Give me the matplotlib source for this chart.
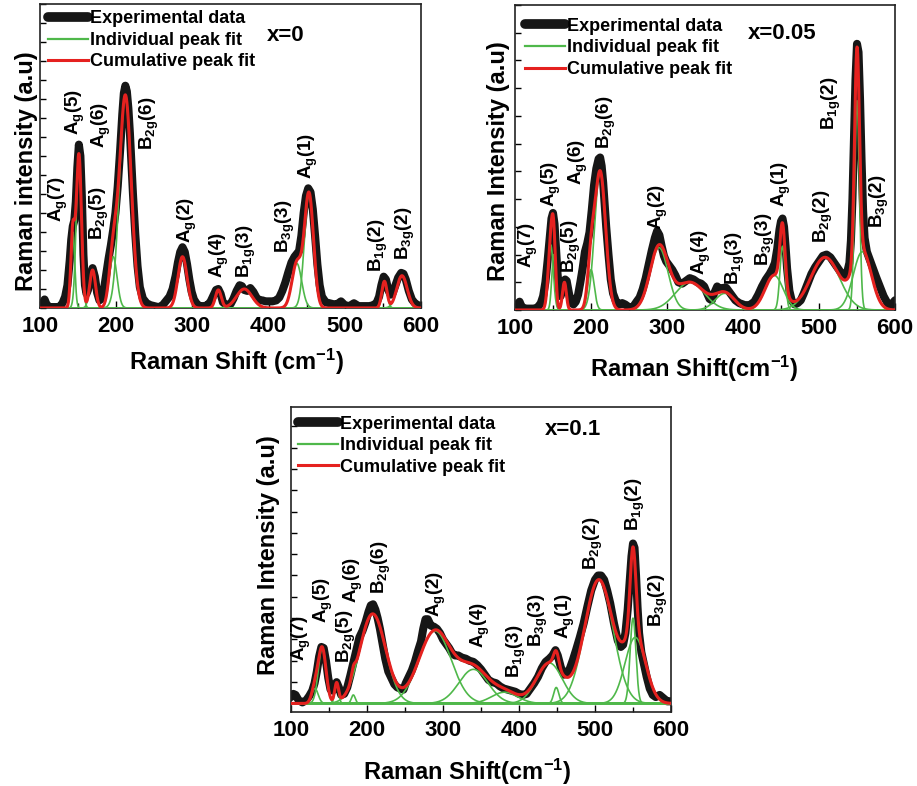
import numpy as np
import matplotlib
matplotlib.use("Agg")
import matplotlib.pyplot as plt
from matplotlib.lines import Line2D
from matplotlib.ticker import MultipleLocator

plt.rcParams["font.family"] = ["Liberation Sans", "DejaVu Sans"]
plt.rcParams["font.weight"] = "bold"
plt.rcParams["mathtext.fontset"] = "custom"
for k in ("rm", "it", "bf", "sf"):
    plt.rcParams["mathtext." + k] = "Liberation Sans:bold"

# ---------------- data ----------------
# Panel x=0 : experimental data
exp0_x = [100, 103, 106, 109, 113, 118, 123, 127, 130, 133, 136, 139, 141, 143, 145, 147, 149, 151, 153, 155,
          157, 159, 161, 163, 166, 169, 172, 175, 178, 181, 184, 187, 190, 193, 196, 199, 202, 205, 208, 210,
          212, 214, 216, 218, 220, 222, 225, 228, 231, 235, 240, 245, 250, 255, 260, 265, 270, 274, 278, 281,
          284, 287, 290, 293, 296, 299, 302, 306, 310, 315, 320, 324, 328, 331, 334, 337, 340, 345, 350, 354,
          358, 362, 365, 368, 372, 376, 380, 384, 388, 392, 396, 400, 405, 410, 414, 418, 422, 426, 430, 434,
          437, 440, 443, 446, 449, 452, 455, 458, 461, 464, 467, 470, 475, 480, 485, 490, 495, 500, 506, 512,
          518, 525, 532, 538, 542, 545, 548, 551, 554, 557, 560, 563, 566, 570, 574, 577, 580, 584, 588, 592,
          596, 600]
exp0_y = [0.15, 0.2, 0.45, 0.15, 0.05, 0.05, 0.05, 0.1, 0.3, 0.6, 1.2, 2.5, 3.6, 4.3, 4.6, 5.6, 7.4, 8.6, 8.0, 5.8,
          2.8, 1.2, 0.75, 0.95, 1.7, 2.1, 1.65, 0.8, 0.4, 0.5, 1.0, 1.8, 2.6, 3.3, 4.1, 5.0, 6.4, 8.2, 10.2, 11.3,
          11.7, 11.4, 10.5, 9.2, 7.6, 6.0, 3.9, 2.2, 1.1, 0.5, 0.25, 0.15, 0.1, 0.05, 0.1, 0.35, 0.6, 1.0, 1.7, 2.4,
          2.95, 3.2, 2.95, 2.3, 1.5, 0.85, 0.45, 0.2, 0.1, 0.1, 0.15, 0.35, 0.7, 0.95, 1.0, 0.75, 0.3, 0.15, 0.2, 0.5,
          0.9, 1.2, 1.15, 0.95, 0.9, 1.05, 0.85, 0.55, 0.4, 0.4, 0.35, 0.35, 0.35, 0.4, 0.55, 0.9, 1.35, 1.9, 2.4, 2.7,
          2.85, 3.0, 3.8, 5.0, 5.9, 6.3, 6.1, 5.2, 3.8, 2.3, 1.2, 0.6, 0.3, 0.25, 0.2, 0.2, 0.35, 0.15, 0.1, 0.25,
          0.1, 0.1, 0.1, 0.15, 0.3, 0.6, 1.2, 1.65, 1.5, 0.95, 0.7, 0.8, 1.15, 1.6, 1.85, 1.8, 1.5, 0.9, 0.45, 0.25,
          0.15, 0.1]
# Panel x=0 : fitted peaks (Gaussian centre, height, FWHM)
pk0_center = [143, 151, 169, 196, 212, 287, 334, 368, 437, 453, 552, 575]
pk0_height = [4.0, 8.1, 2.0, 2.7, 11.2, 2.7, 0.95, 1.0, 2.35, 6.0, 1.4, 1.7]
pk0_fwhm = [6, 8, 9, 12, 18, 14, 9, 24, 15, 14, 8, 16]
lab0_text = [r"A$_g$(7)", r"A$_g$(5)", r"A$_g$(6)", r"B$_{2g}$(6)", r"B$_{2g}$(5)", r"A$_g$(2)", r"A$_g$(4)",
             r"B$_{1g}$(3)", r"B$_{3g}$(3)", r"A$_g$(1)", r"B$_{1g}$(2)", r"B$_{3g}$(2)"]

# Panel x=0.05 : experimental data
exp1_x = [100, 103, 106, 109, 114, 120, 126, 130, 134, 137, 140, 143, 146, 148, 150, 152, 154, 156, 158, 160,
          163, 166, 168, 171, 174, 177, 180, 183, 186, 189, 192, 195, 198, 201, 204, 207, 210, 212, 214, 216,
          218, 220, 223, 226, 229, 233, 237, 241, 245, 250, 255, 260, 264, 268, 272, 276, 280, 284, 287, 290,
          293, 296, 299, 303, 307, 311, 315, 320, 325, 330, 335, 340, 345, 349, 352, 356, 359, 362, 366, 370,
          374, 378, 382, 386, 390, 395, 400, 405, 410, 415, 420, 425, 430, 435, 439, 442, 445, 448, 450, 452,
          454, 456, 458, 461, 464, 468, 472, 476, 480, 485, 490, 495, 500, 505, 510, 515, 520, 525, 530, 534,
          537, 540, 542, 544, 546, 548, 550, 552, 554, 556, 558, 560, 563, 567, 571, 575, 580, 585, 590, 594,
          597, 600]
exp1_y = [0.1, 0.2, 0.3, 0.1, 0.05, 0.05, 0.05, 0.1, 0.25, 0.5, 1.0, 1.8, 2.7, 3.3, 3.5, 3.1, 2.2, 1.3, 0.7, 0.5,
          0.75, 1.1, 1.05, 0.6, 0.25, 0.2, 0.3, 0.55, 1.0, 1.5, 2.1, 2.4, 2.8, 3.6, 4.5, 5.1, 5.45, 5.5, 5.2, 4.6,
          3.8, 3.0, 2.0, 1.1, 0.6, 0.3, 0.2, 0.25, 0.2, 0.1, 0.1, 0.3, 0.45, 0.75, 1.15, 1.65, 2.15, 2.6, 2.85, 2.7,
          2.3, 1.95, 1.75, 1.6, 1.45, 1.25, 1.0, 0.95, 1.05, 1.15, 1.1, 1.0, 0.95, 0.85, 0.65, 0.4, 0.35, 0.6, 0.85, 0.75,
          0.8, 0.8, 0.65, 0.5, 0.35, 0.25, 0.2, 0.15, 0.2, 0.3, 0.55, 0.85, 1.1, 1.3, 1.5, 1.7, 2.2, 2.9, 3.2, 3.3,
          3.0, 2.3, 1.5, 0.7, 0.35, 0.2, 0.25, 0.35, 0.6, 0.95, 1.3, 1.55, 1.75, 1.95, 2.0, 1.9, 1.7, 1.5, 1.3, 1.25,
          1.35, 1.7, 2.5, 4.0, 6.2, 8.3, 9.6, 9.3, 7.6, 5.4, 3.6, 2.6, 2.1, 1.8, 1.5, 1.2, 0.85, 0.5, 0.25, 0.12,
          0.25, 0.35]
pk1_center = [147, 151, 165, 200, 212, 289.5, 330, 376, 441, 452, 508, 550, 557]
pk1_height = [2.35, 2.0, 1.0, 1.45, 5.0, 2.25, 1.0, 0.6, 1.25, 2.3, 1.9, 7.55, 2.1]
pk1_fwhm = [8, 6, 6, 10, 17, 28, 45, 30, 28, 8, 45, 7.5, 28]
lab1_text = [r"A$_g$(7)", r"A$_g$(5)", r"B$_{2g}$(5)", r"A$_g$(6)", r"B$_{2g}$(6)", r"A$_g$(2)", r"A$_g$(4)",
             r"B$_{1g}$(3)", r"B$_{3g}$(3)", r"A$_g$(1)", r"B$_{2g}$(2)", r"B$_{1g}$(2)", r"B$_{3g}$(2)"]

# Panel x=0.1 : experimental data
exp2_x = [100, 103, 106, 110, 115, 120, 124, 128, 131, 134, 137, 140, 143, 146, 149, 152, 155, 158, 160, 163,
          166, 170, 174, 178, 182, 186, 190, 194, 198, 202, 205, 208, 211, 214, 217, 220, 224, 228, 232, 236,
          240, 244, 248, 251, 255, 259, 263, 267, 271, 274, 277, 280, 284, 288, 292, 296, 300, 304, 308, 312,
          316, 320, 325, 330, 335, 340, 345, 350, 355, 360, 365, 370, 375, 380, 385, 390, 395, 400, 405, 410,
          415, 420, 425, 430, 435, 440, 444, 448, 451, 455, 459, 463, 467, 471, 475, 480, 485, 490, 495, 500,
          504, 508, 512, 516, 520, 525, 530, 534, 537, 540, 543, 546, 548, 550, 552, 554, 556, 558, 561, 564,
          568, 572, 576, 580, 585, 590, 595, 600]
exp2_y = [0.3, 0.45, 0.4, 0.15, 0.05, 0.15, 0.35, 0.6, 0.95, 1.5, 2.2, 2.65, 2.6, 2.0, 1.2, 0.65, 0.6, 0.85, 1.0, 0.75,
          0.4, 0.45, 0.75, 1.3, 1.9, 2.5, 3.1, 3.4, 3.8, 4.3, 4.6, 4.65, 4.4, 4.0, 3.5, 2.9, 2.1, 1.5, 1.2, 0.9,
          0.75, 0.7, 0.65, 0.95, 1.25, 1.55, 1.95, 2.45, 2.9, 3.5, 3.95, 3.95, 3.65, 3.6, 3.5, 3.3, 3.0, 2.8, 2.6, 2.35,
          2.25, 2.25, 2.15, 2.1, 2.0, 1.95, 1.8, 1.6, 1.35, 1.1, 1.0, 0.95, 0.8, 0.7, 0.65, 0.6, 0.55, 0.45, 0.4, 0.45,
          0.7, 0.95, 1.25, 1.65, 1.95, 2.1, 2.25, 2.5, 2.25, 1.7, 1.35, 1.4, 1.65, 2.05, 2.5, 3.1, 3.75, 4.55, 5.3, 5.8,
          6.0, 6.0, 5.8, 5.3, 4.7, 3.75, 2.95, 2.65, 2.75, 3.3, 4.4, 5.9, 6.9, 7.5, 7.3, 6.0, 4.5, 3.3, 2.4, 1.9,
          1.25, 0.7, 0.4, 0.3, 0.4, 0.25, 0.1, 0.1]
pk2_center = [131.5, 141, 160, 182, 207.5, 289.5, 340, 381, 440, 449, 505, 550, 553]
pk2_height = [0.7, 2.6, 0.9, 0.4, 4.2, 3.4, 1.6, 0.53, 1.9, 0.75, 5.8, 4.0, 3.1]
pk2_fwhm = [10, 12, 6, 6, 40, 50, 45, 40, 40, 8, 44, 9, 32]
lab2_text = lab1_text

panels = [
    dict(ex=exp0_x, ey=exp0_y, c=pk0_center, h=pk0_height, w=pk0_fwhm, labels=lab0_text,
         lx=[124, 146, 181, 244, 178, 293, 336, 371, 422, 452, 544, 579],
         ly=[4.5, 9.1, 8.4, 8.3, 3.6, 3.4, 1.6, 1.6, 2.9, 6.8, 1.9, 2.5],
         rect=[40, 308, 381, 304], ylim=(0, 16), title="x=0", tpos=(0.596, 0.898),
         ylabel="Raman intensity (a.u)", ylc=(-0.005, 0.451),
         xlabel=r"Raman Shift (cm$^{-1}$)", xlc=(0.516, -0.128), leg=(0.021, 0.979)),
    dict(ex=exp1_x, ey=exp1_y, c=pk1_center, h=pk1_height, w=pk1_fwhm, labels=lab1_text,
         lx=[117.5, 148, 174.5, 183, 220.6, 288.6, 345.6, 389.5, 429, 451, 505.7, 516.7, 580],
         ly=[1.5, 3.7, 1.33, 4.5, 5.8, 2.9, 1.27, 0.9, 1.57, 3.7, 2.4, 6.5, 2.95],
         rect=[515, 310, 380, 305], ylim=(0, 11), title="x=0.05", tpos=(0.613, 0.908),
         ylabel="Raman Intensity (a.u)", ylc=(-0.013, 0.489),
         xlabel=r"Raman Shift(cm$^{-1}$)", xlc=(0.472, -0.144), leg=(0.026, 0.958)),
    dict(ex=exp2_x, ey=exp2_y, c=pk2_center, h=pk2_height, w=pk2_fwhm, labels=lab2_text,
         lx=[114, 142.5, 173, 182, 219, 291.7, 348.7, 397, 425, 460.5, 498, 552.6, 583],
         ly=[2.0, 3.75, 1.9, 4.7, 5.15, 4.05, 2.6, 1.2, 2.65, 3.0, 6.25, 8.1, 3.6],
         rect=[291, 712, 380, 305], ylim=(-0.4, 13.9), title="x=0.1", tpos=(0.668, 0.925),
         ylabel="Raman Intensity (a.u)", ylc=(-0.028, 0.515),
         xlabel=r"Raman Shift(cm$^{-1}$)", xlc=(0.464, -0.146), leg=(0.018, 0.972)),
]

W, H = 917, 786
fig = plt.figure(figsize=(W / 100, H / 100), dpi=100)

BLACK = "#161616"
GREEN = "#4fb84a"
RED = "#e5211f"

xgrid = np.linspace(100, 600, 2001)

for p in panels:
    left, bottom_px, width, height = p["rect"]
    ax = fig.add_axes([left / W, (H - bottom_px) / H, width / W, height / H])
    ax.plot(p["ex"], p["ey"], color=BLACK, lw=5.8, solid_joinstyle="round", solid_capstyle="round", zorder=2)
    total = np.zeros_like(xgrid)
    for c, h, w in zip(p["c"], p["h"], p["w"]):
        g = h * np.exp(-4 * np.log(2) * (xgrid - c) ** 2 / w ** 2)
        total += g
        ax.plot(xgrid, g, color=GREEN, lw=1.2, zorder=3)
    ax.plot(xgrid, total, color=RED, lw=2.2, zorder=4)

    for t, x, y in zip(p["labels"], p["lx"], p["ly"]):
        ax.text(x, y, t, rotation=90, ha="center", va="bottom", fontsize=13.5, fontweight="bold", zorder=5)

    ax.set_xlim(100, 600)
    ax.set_ylim(*p["ylim"])
    ax.xaxis.set_major_locator(MultipleLocator(100))
    ax.xaxis.set_minor_locator(MultipleLocator(50))
    ax.yaxis.set_major_locator(MultipleLocator(1))
    ax.tick_params(axis="both", which="both", direction="in", top=False, right=False)
    ax.tick_params(axis="x", which="major", length=5, width=1, labelsize=16, pad=6)
    ax.tick_params(axis="x", which="minor", length=3.5, width=1)
    ax.tick_params(axis="y", which="major", length=4, width=1, labelleft=False)
    for s in ax.spines.values():
        s.set_linewidth(1.2)
        s.set_color("#222222")

    ax.set_ylabel(p["ylabel"], fontsize=17, fontweight="bold")
    ax.yaxis.set_label_coords(*p["ylc"])
    ax.set_xlabel(p["xlabel"], fontsize=17, fontweight="bold")
    ax.xaxis.set_label_coords(*p["xlc"])

    ax.text(p["tpos"][0], p["tpos"][1], p["title"], transform=ax.transAxes, fontsize=16,
            fontweight="bold", ha="left", va="center")

    handles = [Line2D([], [], color=BLACK, lw=7, solid_capstyle="round"),
               Line2D([], [], color=GREEN, lw=1.6),
               Line2D([], [], color=RED, lw=2.2)]
    ax.legend(handles, ["Experimental data", "Individual peak fit", "Cumulative peak fit"],
              loc="upper left", bbox_to_anchor=p["leg"], frameon=False,
              handlelength=2.2, handletextpad=0.15, labelspacing=0.25, borderpad=0,
              borderaxespad=0, prop={"weight": "bold", "size": 13})

fig.savefig("out.png", dpi=100)
